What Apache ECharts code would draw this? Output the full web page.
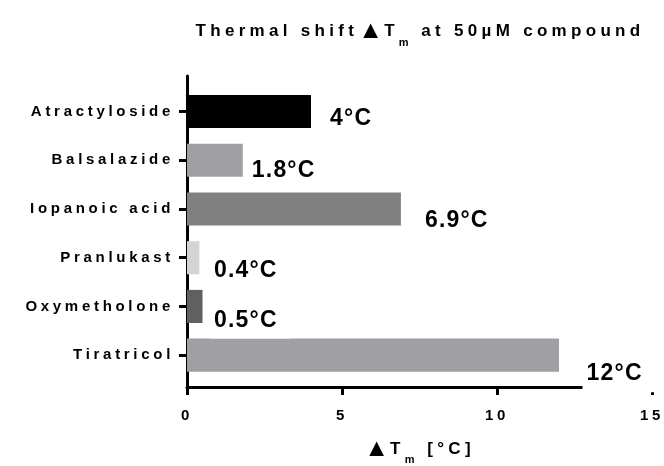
<!DOCTYPE html>
<html>
<head>
<meta charset="utf-8">
<script src="https://cdn.jsdelivr.net/npm/echarts@6/dist/echarts.min.js"></script>
<style>
  html, body { margin: 0; padding: 0; background: #fff; }
  #chart { width: 664px; height: 466px; }
</style>
</head>
<body>
<div id="chart"></div>
<script>
// Compounds, listed top to bottom
const compounds = ['Atractyloside', 'Balsalazide', 'Iopanoic acid', 'Pranlukast', 'Oxymetholone', 'Tiratricol'];
// Melting-temperature shift (°C) at 50 µM compound
const deltaTm = [4, 1.8, 6.9, 0.4, 0.5, 12];
// Value-axis range and step
const axisMin = 0;
const axisMax = 15;
const axisStep = 5;

// Wide letter tracking: small text gets generous spacing, the big value labels a little.
(function () {
  const proto = CanvasRenderingContext2D.prototype;
  function tracking(font) {
    const m = /(\d+(?:\.\d+)?)px/.exec(font || '');
    if (!m) return '0px';
    const size = parseFloat(m[1]);
    if (size < 16) return '3.7px';
    if (size < 20) return '4.3px';
    return '1.2px';
  }
  ['fillText', 'strokeText', 'measureText'].forEach(function (fn) {
    const orig = proto[fn];
    proto[fn] = function () {
      if ('letterSpacing' in this) this.letterSpacing = tracking(this.font);
      return orig.apply(this, arguments);
    };
  });
})();

const FONT = "'Liberation Sans', Arial, sans-serif";
const barColors = ['#000000', '#a0a0a4', '#808080', '#d4d4d4', '#606060', '#a0a0a4'];
// Per-bar nudges of the value labels [dx, dy]
const labelShift = [[15, 7.5], [5, 10.5], [20, 11.5], [10.5, 13], [7.5, 14], [23.5, 19]];

const richParts = {
  tri: { fontSize: 25, fontWeight: 'bold', fontFamily: FONT, color: '#000' },
  sub: { fontSize: 11, fontWeight: 'bold', fontFamily: FONT, color: '#000', verticalAlign: 'bottom' }
};

const chart = echarts.init(document.getElementById('chart'));
chart.setOption({
  animation: false,
  backgroundColor: '#fff',
  title: {
    text: 'Thermal shift{tri|▲}T{sub|m} at 50µM compound',
    left: 415,
    top: 8,
    textAlign: 'center',
    textStyle: {
      fontSize: 17, fontWeight: 'bold', fontFamily: FONT, color: '#000',
      lineHeight: 37,
      rich: richParts
    }
  },
  grid: [
    // grid for the bars
    { left: 187, right: 12, top: 87.2, bottom: 86.5, containLabel: false, outerBoundsMode: 'none' },
    // frame grid carrying the visible axis lines
    { left: 187, right: 12, top: 76, bottom: 79, containLabel: false, outerBoundsMode: 'none' }
  ],
  xAxis: [
    { gridIndex: 0, type: 'value', min: axisMin, max: axisMax, show: false },
    {
      gridIndex: 1, type: 'value', min: axisMin, max: axisMax, interval: axisStep,
      axisLine: { show: true, onZero: false, lineStyle: { color: '#000', width: 3 } },
      axisTick: { show: true, length: 8, lineStyle: { color: '#000', width: 3 } },
      axisLabel: { margin: 20, fontSize: 15, fontWeight: 'bold', fontFamily: FONT, color: '#000' },
      splitLine: { show: false },
      name: '{tri|▲}T{sub|m} [°C]',
      nameLocation: 'middle',
      nameGap: 42,
      nameTextStyle: {
        fontSize: 17, fontWeight: 'bold', fontFamily: FONT, color: '#000',
        lineHeight: 37,
        rich: richParts
      }
    }
  ],
  yAxis: [
    {
      gridIndex: 0, type: 'category', data: compounds, inverse: true,
      axisLine: { show: false },
      axisTick: { show: true, alignWithLabel: true, length: 8, lineStyle: { color: '#000', width: 3 } },
      axisLabel: { margin: 13, fontSize: 15, fontWeight: 'bold', fontFamily: FONT, color: '#000' }
    },
    {
      gridIndex: 1, type: 'value', min: 0, max: 1,
      axisLine: { show: true, onZero: false, lineStyle: { color: '#000', width: 3 } },
      axisTick: { show: false },
      axisLabel: { show: false },
      splitLine: { show: false }
    }
  ],
  series: [{
    type: 'bar',
    xAxisIndex: 0,
    yAxisIndex: 0,
    barWidth: '68%',
    data: deltaTm.map(function (v, i) {
      return {
        value: v,
        itemStyle: { color: barColors[i] },
        label: { offset: labelShift[i] }
      };
    }),
    label: {
      show: true,
      position: 'right',
      distance: 0,
      formatter: function (p) { return p.value + '°C'; },
      fontSize: 23,
      fontWeight: 'bold',
      fontFamily: FONT,
      color: '#000',
      lineHeight: 24,
      backgroundColor: '#fff',
      padding: [6, 12, 6, 4]
    }
  }]
});
</script>
</body>
</html>
